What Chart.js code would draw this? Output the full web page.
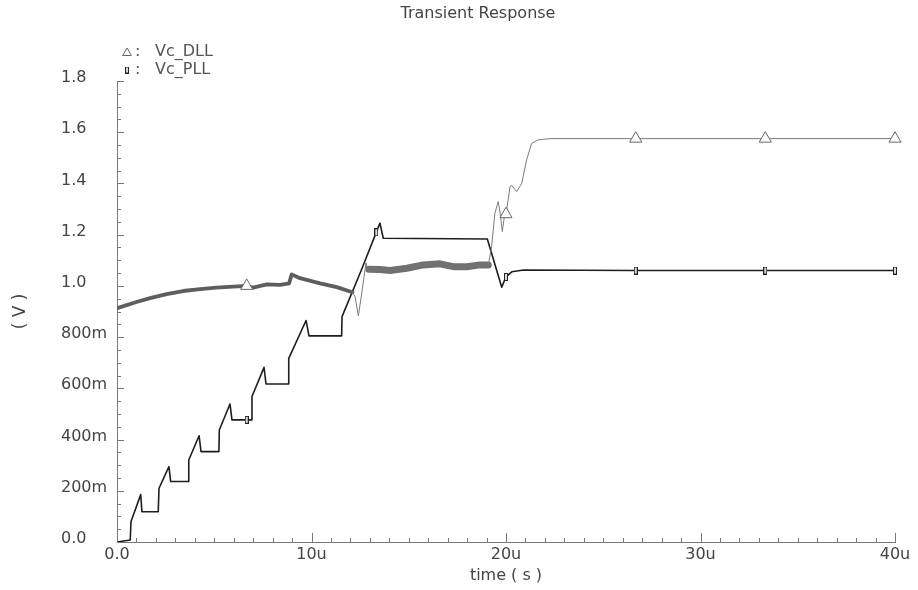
<!DOCTYPE html>
<html>
<head>
<meta charset="utf-8">
<script src="https://cdn.jsdelivr.net/npm/chart.js@4/dist/chart.umd.min.js"></script>
<style>
  html, body { margin: 0; padding: 0; background: #fff; }
  #wrap { width: 918px; height: 590px; }
</style>
</head>
<body>
<div id="wrap"><canvas id="chart" width="918" height="590"></canvas></div>
<script>
// Transient response of the two loop control voltages.
// Time in microseconds, voltage in volts.

const seriesNames = ['Vc_DLL', 'Vc_PLL'];

const dllTime = [0, 0.5, 1.0, 1.7, 2.55, 3.4, 4.27, 5.1, 5.98, 6.67, 7.0, 7.7, 8.38, 8.85, 8.98, 9.41,
  10.44, 11.3, 11.98, 12.1, 12.24, 12.41, 12.6, 12.8, 12.9, 12.95, 13.52, 14.04, 14.9, 15.75,
  16.6, 17.29, 17.98, 18.66, 19.09, 19.26, 19.43, 19.6, 19.7, 19.81, 19.95, 20, 20.21, 20.29,
  20.55, 20.81, 21.06, 21.32, 21.66, 22.26, 26.67, 33.33, 40];
const dllVolt = [0.913, 0.925, 0.937, 0.952, 0.968, 0.98, 0.987, 0.993, 0.997, 1.0, 0.993, 1.006, 1.004, 1.01, 1.045, 1.03,
  1.01, 0.995, 0.978, 0.975, 0.958, 0.883, 0.98, 1.09, 1.06, 1.065, 1.064, 1.06, 1.069, 1.082,
  1.086, 1.075, 1.075, 1.082, 1.082, 1.153, 1.284, 1.329, 1.284, 1.212, 1.29, 1.28, 1.388, 1.393,
  1.368, 1.401, 1.492, 1.557, 1.57, 1.575, 1.575, 1.575, 1.575];

const pllTime = [0, 0.68, 0.72, 1.22, 1.28, 2.12, 2.16, 2.67, 2.76, 3.67, 3.69, 4.22, 4.32, 5.24,
  5.26, 5.81, 5.91, 6.67, 6.92, 6.94, 7.56, 7.66, 8.81, 8.83, 9.72, 9.87, 11.55, 11.57, 12.58,
  13.33, 13.52, 13.69, 19.04, 19.78, 20, 20.3, 20.9, 26.67, 33.33, 40];
const pllVolt = [0.0, 0.008, 0.08, 0.185, 0.118, 0.118, 0.21, 0.294, 0.236, 0.236, 0.32, 0.415, 0.353, 0.353,
  0.4375, 0.539, 0.477, 0.477, 0.477, 0.568, 0.682, 0.617, 0.617, 0.717, 0.865, 0.805, 0.805, 0.88, 1.065,
  1.209, 1.245, 1.186, 1.183, 0.995, 1.035, 1.055, 1.062, 1.06, 1.06, 1.06];

// Times where each trace carries its symbol
const dllMarkerTimes = [6.67, 20, 26.67, 33.33, 40];
const pllMarkerTimes = [6.67, 13.33, 20, 26.67, 33.33, 40];

// Stretches where the DLL control voltage rides on a dense ripple
const dllRippleSpans = [[0, 12.1], [12.95, 19.09]];

const xTickLabels = ['0.0', '10u', '20u', '30u', '40u'];
const yTickLabels = ['0.0', '200m', '400m', '600m', '800m', '1.0', '1.2', '1.4', '1.6', '1.8'];

const toPoints = (ts, vs) => ts.map((t, i) => ({ x: t, y: vs[i] }));
const isMarker = (list, t) => list.some(m => Math.abs(m - t) < 0.005);

// Narrow upright box used as the PLL symbol
function boxSymbol(w, h) {
  const c = document.createElement('canvas');
  c.width = w; c.height = h;
  const g = c.getContext('2d');
  g.fillStyle = '#d8d8d8';
  g.fillRect(0, 0, w, h);
  g.strokeStyle = '#222';
  g.lineWidth = 1;
  g.strokeRect(0.5, 0.5, w - 1, h - 1);
  return c;
}
const pllSymbol = boxSymbol(4, 8);
const pllLegendSymbol = boxSymbol(4, 7);

function rippleIndex(a, b) {
  return dllRippleSpans.findIndex(([s, e]) => a >= s - 1e-9 && b <= e + 1e-9);
}

Chart.defaults.font.family = 'DejaVu Sans';
Chart.defaults.font.size = 16;
Chart.defaults.color = '#444';

// Inward-pointing major and minor tick marks on both axes
const innerTicks = {
  id: 'innerTicks',
  afterDraw(chart) {
    const { ctx, chartArea: a, scales: { x, y } } = chart;
    ctx.save();
    ctx.strokeStyle = '#777';
    ctx.lineWidth = 1;
    ctx.beginPath();
    const yMajor = 0.2, yMinor = yMajor / 4;
    const yCount = Math.round((y.max - y.min) / yMinor);
    for (let i = 0; i <= yCount; i++) {
      const py = Math.round(y.getPixelForValue(y.min + i * yMinor)) + 0.5;
      const len = i % 4 === 0 ? 7 : 4;
      ctx.moveTo(a.left, py);
      ctx.lineTo(a.left + len, py);
    }
    const xMajor = 10, xMinor = 1;
    const xCount = Math.round((x.max - x.min) / xMinor);
    for (let i = 0; i <= xCount; i++) {
      const px = Math.round(x.getPixelForValue(x.min + i * xMinor)) + 0.5;
      const len = i % (xMajor / xMinor) === 0 ? 9 : 4;
      ctx.moveTo(px, a.bottom);
      ctx.lineTo(px, a.bottom - len);
    }
    ctx.stroke();
    ctx.restore();
  }
};

// Stacked "symbol: name" key above the plot
const symbolKey = {
  id: 'symbolKey',
  afterDraw(chart) {
    const ctx = chart.ctx;
    ctx.save();
    ctx.font = '16px "DejaVu Sans"';
    ctx.textBaseline = 'middle';
    ctx.textAlign = 'left';
    chart.data.datasets.forEach((ds, i) => {
      const cy = 52 + i * 18;
      ctx.strokeStyle = i === 0 ? '#666' : '#222';
      ctx.fillStyle = '#fff';
      ctx.lineWidth = 1;
      const style = i === 0 ? 'triangle' : pllLegendSymbol;
      Chart.helpers.drawPoint(ctx, { pointStyle: style, radius: 5, rotation: 0, borderWidth: 1 }, 127, cy + (i === 0 ? 1 : 0));
      ctx.fillStyle = '#555';
      ctx.fillText(':', 135, cy);
      ctx.fillText(ds.label, 155, cy);
    });
    ctx.restore();
  }
};

const plotClip = { left: 0, top: 10, right: 10, bottom: 0 };

new Chart(document.getElementById('chart'), {
  type: 'line',
  data: {
    datasets: [
      {
        label: seriesNames[0],
        data: toPoints(dllTime, dllVolt),
        clip: plotClip,
        borderColor: '#7a7a7a',
        borderWidth: 1,
        borderJoinStyle: 'round',
        borderCapStyle: 'round',
        tension: 0,
        pointStyle: 'triangle',
        pointRadius: c => isMarker(dllMarkerTimes, c.raw.x) ? 7 : 0,
        pointBackgroundColor: '#fff',
        pointBorderColor: '#666',
        pointBorderWidth: 1,
        pointHoverRadius: 0,
        segment: {
          borderWidth: c => {
            const k = rippleIndex(c.p0.parsed.x, c.p1.parsed.x);
            return k === 0 ? 3.8 : k === 1 ? 7 : 1;
          },
          borderColor: c => {
            const k = rippleIndex(c.p0.parsed.x, c.p1.parsed.x);
            return k === 0 ? '#5e5e5e' : k === 1 ? '#717171' : '#7a7a7a';
          }
        }
      },
      {
        label: seriesNames[1],
        data: toPoints(pllTime, pllVolt),
        clip: plotClip,
        borderColor: '#1e1e1e',
        borderWidth: 1.6,
        borderJoinStyle: 'round',
        tension: 0,
        pointStyle: pllSymbol,
        pointRadius: c => isMarker(pllMarkerTimes, c.raw.x) ? 4 : 0,
        pointHoverRadius: 0
      }
    ]
  },
  options: {
    responsive: false,
    animation: false,
    events: [],
    layout: { padding: { left: 61, right: 23, top: 0, bottom: 0 } },
    plugins: {
      legend: { display: false },
      tooltip: { enabled: false },
      title: {
        display: true,
        text: 'Transient Response',
        color: '#444',
        font: { size: 16, weight: 'normal' },
        padding: { top: 4, bottom: 57.8 }
      }
    },
    scales: {
      x: {
        type: 'linear',
        min: 0,
        max: 40,
        grid: { display: false, drawTicks: false },
        border: { display: true, color: '#777', width: 1 },
        ticks: {
          stepSize: 10,
          padding: 3,
          maxRotation: 0,
          color: '#444',
          callback: (v, i) => xTickLabels[i]
        },
        title: {
          display: true,
          text: 'time ( s )',
          color: '#444',
          font: { size: 16 },
          padding: { top: 0, bottom: 4.4 }
        },
        afterFit: s => { s.height = 48; }
      },
      y: {
        type: 'linear',
        min: 0,
        max: 1.8,
        grid: { display: false, drawTicks: false },
        border: { display: true, color: '#777', width: 1 },
        ticks: {
          stepSize: 0.2,
          padding: 0,
          crossAlign: 'far',
          labelOffset: -3,
          color: '#444',
          callback: (v, i) => yTickLabels[i]
        },
        title: {
          display: true,
          text: '( V )',
          color: '#444',
          font: { size: 17 },
          padding: { top: -50.2, bottom: 0 }
        },
        afterFit: s => { s.width = 56; }
      }
    }
  },
  plugins: [innerTicks, symbolKey]
});
</script>
</body>
</html>
